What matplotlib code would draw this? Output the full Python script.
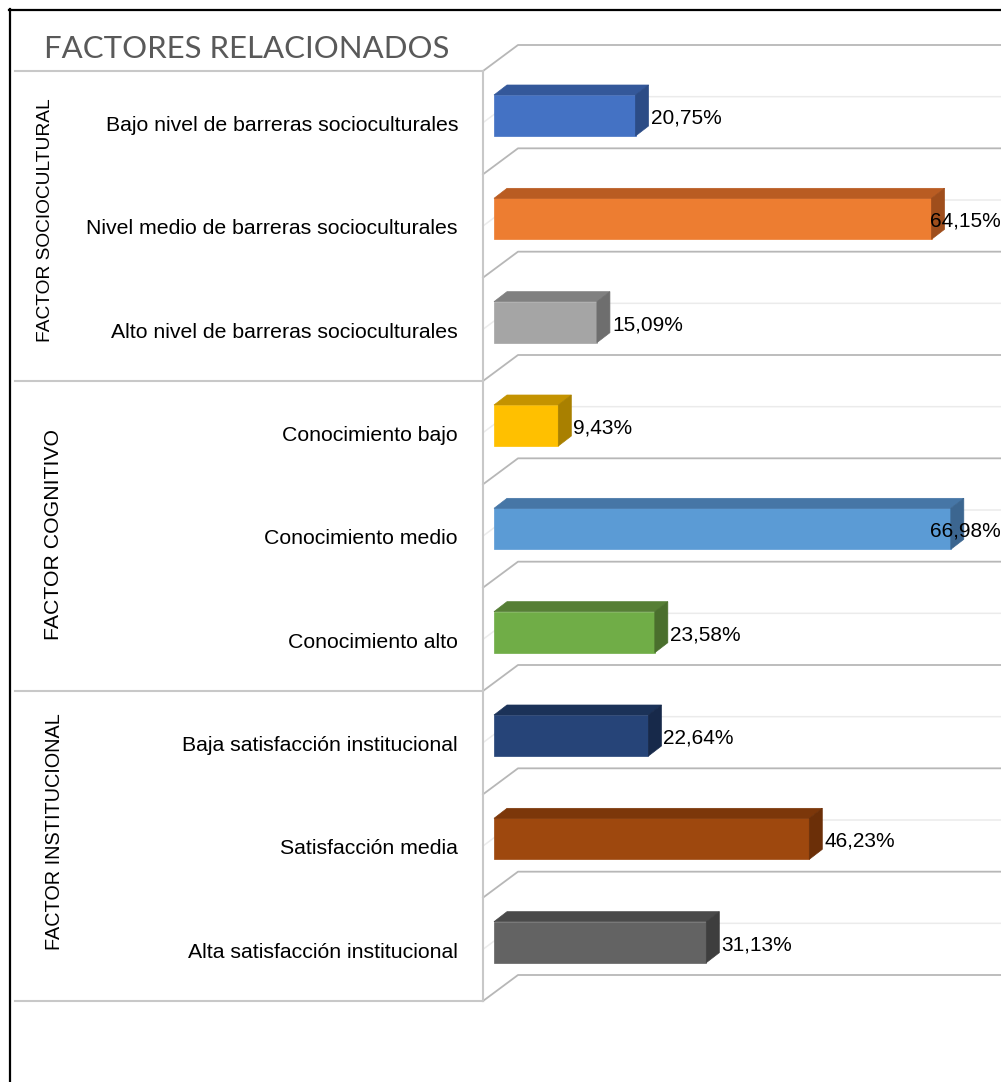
import matplotlib.pyplot as plt
from matplotlib.patches import Polygon, Rectangle
from matplotlib.lines import Line2D

plt.rcParams['font.family'] = ['Liberation Sans', 'DejaVu Sans']

# datos del grafico
categorias = [
    "Bajo nivel de barreras socioculturales",
    "Nivel medio de barreras socioculturales",
    "Alto nivel de barreras socioculturales",
    "Conocimiento bajo",
    "Conocimiento medio",
    "Conocimiento alto",
    "Baja satisfacción institucional",
    "Satisfacción media",
    "Alta satisfacción institucional",
]
porcentajes = [20.75, 64.15, 15.09, 9.43, 66.98, 23.58, 22.64, 46.23, 31.13]
grupos = ["FACTOR SOCIOCULTURAL", "FACTOR COGNITIVO", "FACTOR INSTITUCIONAL"]
titulo = "FACTORES RELACIONADOS"

# colores de cada barra: cara frontal, cara superior, cara lateral
frente = ["#4472C4", "#ED7D31", "#A5A5A5", "#FFC000", "#5B9BD5",
          "#70AD47", "#264478", "#9E480E", "#636363"]
arriba = ["#34589A", "#B95C22", "#808080", "#C49300", "#4676A6",
          "#567F35", "#1B3258", "#7C370A", "#4A4A4A"]
lado = ["#2C4C86", "#9F4E1C", "#6E6E6E", "#A98000", "#3C6690",
        "#4A6F2D", "#17294A", "#6B2F08", "#3E3E3E"]

W, H = 1001, 1082
fig = plt.figure(figsize=(W / 100, H / 100), dpi=100)

# eje principal: x en %, y en unidades de categoria (0 arriba)
ax = fig.add_axes([494 / W, 1 - 1001 / H, 507 / W, 930 / H])
escala = 6.82                 # pixeles por punto porcentual
alto_cat = 930 / 9            # pixeles por categoria
xmax = 507 / escala
ax.set_xlim(0, xmax)
ax.set_ylim(9, 0)
ax.axis('off')


def dx(p):
    return p / escala


def dy(p):
    return p / alto_cat


gris = "#B7B7B7"
gris_claro = "#EBEBEB"

# pared del fondo y lineas de division entre categorias
for k in range(10):
    ax.plot([dx(-11), dx(24), xmax + dx(30)], [k, k - dy(26), k - dy(26)],
            color=gris, lw=1.3, clip_on=False, zorder=1)
for i in range(9):
    c = i + 0.5
    ax.plot([dx(-11), dx(24), xmax + dx(30)], [c, c - dy(26), c - dy(26)],
            color=gris_claro, lw=1.1, clip_on=False, zorder=0.5)

# eje vertical frontal y lineas de los grupos
ax.plot([dx(-11), dx(-11)], [0, 9], color="#C8C8C8", lw=1.5, clip_on=False, zorder=1)
for k in (0, 3, 6, 9):
    ax.plot([dx(15 - 494), dx(-11)], [k, k], color="#C8C8C8", lw=1.5,
            clip_on=False, zorder=1)

# barras en 3D (frente, tapa y lateral)
prof_x, prof_y = dx(13), dy(10)
etiquetas = []
for i, v in enumerate(porcentajes):
    y0 = i + dy(24)
    y1 = i + dy(65)
    ax.add_patch(Rectangle((0, y0), v, y1 - y0, facecolor=frente[i],
                           edgecolor=frente[i], lw=0.5, zorder=3, clip_on=False))
    ax.add_patch(Polygon([(0, y0), (v, y0), (v + prof_x, y0 - prof_y),
                          (prof_x, y0 - prof_y)],
                         facecolor=arriba[i], edgecolor=arriba[i], lw=0.5,
                         zorder=3, clip_on=False))
    ax.add_patch(Polygon([(v, y0), (v + prof_x, y0 - prof_y),
                          (v + prof_x, y1 - prof_y), (v, y1)],
                         facecolor=lado[i], edgecolor=lado[i], lw=0.5,
                         zorder=3, clip_on=False))
    texto = f"{v:.2f}%".replace(".", ",")
    t = ax.text(v + dx(15), i + dy(47), texto, ha='left', va='center',
                fontsize=15, color="black", zorder=4, clip_on=False)
    etiquetas.append(t)

    ax.text(dx(458 - 494), i + 0.5 + dy(3), categorias[i], ha='right',
            va='center', fontsize=15.3, color="black", clip_on=False)

# las etiquetas que no caben se pegan al borde derecho
fig.canvas.draw()
rend = fig.canvas.get_renderer()
for t in etiquetas:
    if t.get_window_extent(rend).x1 > W:
        t.set_x(xmax)
        t.set_ha('right')

# nombres de los grupos (texto vertical)
pos_grupos = [(45, 220, 13.8), (53, 535, 15.3), (54, 832, 14.3)]
for g, (px, py, fs) in zip(grupos, pos_grupos):
    ax.text(dx(px - 494), dy(py - 71), g, rotation=90, ha='center',
            va='center', fontsize=fs, color="black", clip_on=False)

# titulo
ax.text(dx(44 - 494), dy(58 - 71), titulo, ha='left', va='baseline',
        fontsize=22.4, family=['Lato', 'DejaVu Sans'], color="#595959",
        clip_on=False)

# marco exterior
fig.add_artist(Line2D([9 / W, 1], [1 - 10 / H, 1 - 10 / H],
                      transform=fig.transFigure, color="black", lw=1.6))
fig.add_artist(Line2D([10 / W, 10 / W], [0, 1 - 9 / H],
                      transform=fig.transFigure, color="black", lw=1.6))

fig.savefig("out.png", dpi=100, facecolor="white")
